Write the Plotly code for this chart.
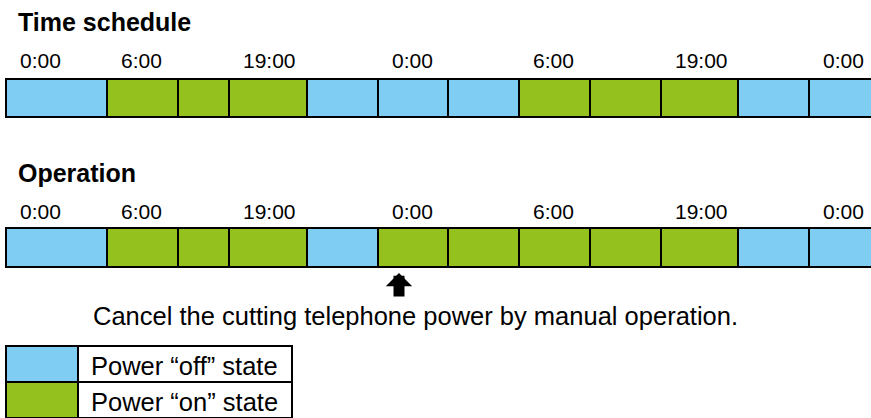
import plotly.graph_objects as go

# schematic time blocks (segment edges along the bar) and states
seg_edges = [6, 107, 178, 229, 307, 378, 448, 519, 590, 661, 738, 809, 880]
schedule_state = ["off", "on", "on", "on", "off", "off", "off", "on", "on", "on", "off", "off"]
operation_state = ["off", "on", "on", "on", "off", "on", "on", "on", "on", "on", "off", "off"]

tick_labels = ["0:00", "6:00", "19:00", "0:00", "6:00", "19:00", "0:00"]
tick_segment = [0, 1, 3, 5, 7, 9, 11]

legend_states = ["off", "on"]
legend_labels = ["Power \u201coff\u201d state", "Power \u201con\u201d state"]

state_color = {"off": "#7fcdf2", "on": "#95c11f"}
FONT = "Liberation Sans, Arial, sans-serif"

starts = seg_edges[:-1]
widths = [b - a for a, b in zip(seg_edges[:-1], seg_edges[1:])]

fig = go.Figure()


def add_row(states, yc, h):
    fig.add_trace(go.Bar(
        orientation="h",
        y=[yc] * len(states),
        x=widths,
        base=starts,
        width=h,
        marker=dict(color=[state_color[s] for s in states],
                    line=dict(color="black", width=2)),
        hoverinfo="skip",
        showlegend=False,
    ))


add_row(schedule_state, 98, 38)
add_row(operation_state, 247.5, 39)

# legend table: swatch column + label column
leg_y = [363.5, 399.5]
fig.add_trace(go.Bar(
    orientation="h", y=leg_y, x=[72, 72], base=[6, 6], width=36,
    marker=dict(color=[state_color[s] for s in legend_states],
                line=dict(color="black", width=2)),
    hoverinfo="skip", showlegend=False,
))
fig.add_trace(go.Bar(
    orientation="h", y=leg_y, x=[214, 214], base=[78, 78], width=36,
    marker=dict(color="white", line=dict(color="black", width=2)),
    hoverinfo="skip", showlegend=False,
))

ann = []
for title, yc in [("Time schedule", 22), ("Operation", 173)]:
    ann.append(dict(x=16, y=yc, text="<b>%s</b>" % title, xanchor="left",
                    yanchor="middle", showarrow=False,
                    font=dict(family=FONT, size=25, color="black")))

for yc in [60, 211]:
    for lab, idx in zip(tick_labels, tick_segment):
        ann.append(dict(x=seg_edges[idx] + 12, y=yc, text=lab, xanchor="left",
                        yanchor="middle", showarrow=False,
                        font=dict(family=FONT, size=21, color="black")))

for lab, yc in zip(legend_labels, leg_y):
    ann.append(dict(x=89, y=yc + 2, text=lab, xanchor="left", yanchor="middle",
                    showarrow=False, font=dict(family=FONT, size=25.5, color="black")))

ann.append(dict(x=415, y=316, text="Cancel the cutting telephone power by manual operation.",
                xanchor="center", yanchor="middle", showarrow=False,
                font=dict(family=FONT, size=25.5, color="black")))

ann.append(dict(x=399, y=273, text="", showarrow=True, ax=0, ay=25,
                arrowhead=1, arrowsize=0.4, arrowwidth=11, arrowcolor="black",
                standoff=0))

fig.update_layout(
    width=871, height=418,
    margin=dict(l=0, r=0, t=0, b=0),
    paper_bgcolor="white", plot_bgcolor="white",
    barmode="overlay",
    bargap=0,
    xaxis=dict(range=[0, 871], visible=False, fixedrange=True),
    yaxis=dict(range=[418, 0], visible=False, fixedrange=True),
    annotations=ann,
)

fig.write_html("out.html", config={"displayModeBar": False},
               post_script="document.body.style.margin='0';")
